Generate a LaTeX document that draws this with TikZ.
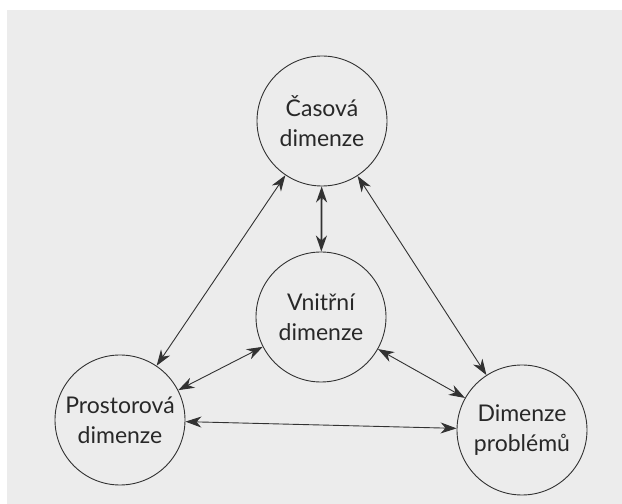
\documentclass[tikz,border=0pt]{standalone}
\usepackage{fontspec}
\setmainfont{Lato}
\usetikzlibrary{arrows.meta}
\definecolor{paper}{RGB}{236,236,236}
\definecolor{ink}{RGB}{50,50,50}
\definecolor{txt}{RGB}{40,40,40}
\begin{document}
\begin{tikzpicture}[x=1pt,y=1pt,
  dim/.style={circle,draw=ink,line width=0.9pt,minimum size=130pt,inner sep=0pt,
    text=txt,align=center,font=\fontsize{23}{30}\selectfont},
  link/.style={draw=ink,line width=0.9pt,
    {Stealth[length=16pt,width=11pt,inset=5pt,fill=ink]}-{Stealth[length=16pt,width=11pt,inset=5pt,fill=ink]}},
  strong/.style={link,line width=1.8pt}]
\useasboundingbox (0,0) rectangle (622,504);
\fill[white] (0,0) rectangle (622,504);
\fill[paper] (7,0) rectangle (622,494);
\node[dim] (cas) at (322,383) {Časová\\dimenze};
\node[dim] (vni) at (321,187) {Vnitřní\\dimenze};
\node[dim] (pro) at (120,84) {Prostorová\\dimenze};
\node[dim] (pbl) at (522,74) {Dimenze\\problémů};
\draw[strong] (cas) -- (vni);
\draw[link] (cas) -- (pro);
\draw[link] (cas) -- (pbl);
\draw[link] (vni) -- (pro);
\draw[link] (vni) -- (pbl);
\draw[link] (pro) -- (pbl);
\end{tikzpicture}
\end{document}
